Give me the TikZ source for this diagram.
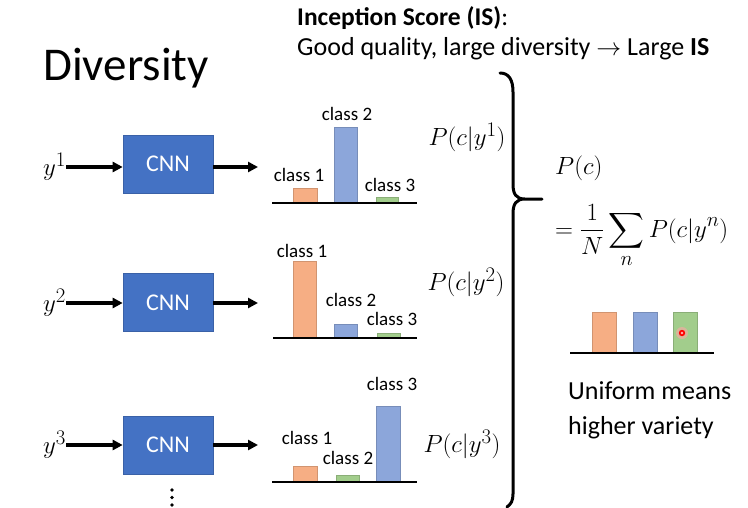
\documentclass[tikz,border=0pt]{standalone}
\usepackage{exscale}
\usepackage{fontspec}
\setmainfont{Carlito}
\usetikzlibrary{arrows.meta}
\definecolor{cnnblue}{RGB}{68,114,196}
\definecolor{barorange}{RGB}{246,174,132}
\definecolor{barblue}{RGB}{140,166,218}
\definecolor{bargreen}{RGB}{162,205,140}
\begin{document}
\begin{tikzpicture}[x=1pt,y=-1pt,
  cnnbox/.style={draw=cnnblue!85!black, fill=cnnblue, minimum width=90pt, minimum height=58pt,
    text=white, font=\fontsize{24}{24}\selectfont, inner sep=0pt, line width=0.6pt},
  fatarrow/.style={line width=3.5pt, -{Triangle[length=10pt,width=10pt]}},
  axisline/.style={line width=2.5pt},
  lbl/.style={font=\fontsize{19}{19}\selectfont, inner sep=0pt},
  mlbl/.style={font=\fontsize{27.5}{27.5}\selectfont, inner sep=0pt},
  yl/.style={font=\fontsize{28}{28}\selectfont, inner sep=0pt, anchor=east},
  obar/.style={fill=barorange, draw=barorange!85!black, line width=0.5pt},
  bbar/.style={fill=barblue, draw=barblue!85!black, line width=0.5pt},
  gbar/.style={fill=bargreen, draw=bargreen!85!black, line width=0.5pt},
  txt/.style={inner sep=0pt, anchor=base west}
]
\useasboundingbox (0,0) rectangle (748,507);
\fill[white] (0,0) rectangle (748,507);

% titles
\node[txt, font=\fontsize{47}{47}\selectfont] (title) at (43,80) {Diversity};
\node[txt, font=\fontsize{25.5}{25.5}\selectfont\bfseries] (head1) at (297,25) {Inception Score (IS)\mdseries:};
\node[txt, font=\fontsize{26}{26}\selectfont] (head2) at (297,55) {Good quality, large diversity $\rightarrow$ Large \textbf{IS}};

% row 1
\node[cnnbox] (cnn1) at (168,164) {CNN};
\node[yl] (y1) at (66,167) {$y^1$};
\coordinate (o1) at (258,167);
\draw[fatarrow] (y1.east) -- (cnn1.west |- y1.east);
\draw[fatarrow] (cnn1.east |- o1) -- (o1);

% row 2
\node[cnnbox] (cnn2) at (168,302.5) {CNN};
\node[yl] (y2) at (66,303) {$y^2$};
\coordinate (o2) at (258,303);
\draw[fatarrow] (y2.east) -- (cnn2.west |- y2.east);
\draw[fatarrow] (cnn2.east |- o2) -- (o2);

% row 3
\node[cnnbox] (cnn3) at (168,445) {CNN};
\node[yl] (y3) at (66,445) {$y^3$};
\coordinate (o3) at (258,445);
\draw[fatarrow] (y3.east) -- (cnn3.west |- y3.east);
\draw[fatarrow] (cnn3.east |- o3) -- (o3);

% dots
\fill (172,490) circle (1.8) (172,497.5) circle (1.8) (172,505) circle (1.8);

% chart 1
\draw[obar] (293,188) rectangle (317,203);
\draw[bbar] (334,127) rectangle (357,203);
\draw[gbar] (376,197) rectangle (398,203);
\draw[axisline] (272,203) -- (417,203);
\node[lbl] (c11) at (299,175) {class 1};
\node[lbl] (c12) at (347,114) {class 2};
\node[lbl] (c13) at (390,185) {class 3};
\node[mlbl] (p1) at (467,137) {$P(c|y^1)$};

% chart 2
\draw[obar] (293,261) rectangle (316,338);
\draw[bbar] (334,324) rectangle (357,338);
\draw[gbar] (377,333) rectangle (400,338);
\draw[axisline] (273,338) -- (417,338);
\node[lbl] (c21) at (302,251) {class 1};
\node[lbl] (c22) at (351,300) {class 2};
\node[lbl] (c23) at (392,319) {class 3};
\node[mlbl] (p2) at (466,282) {$P(c|y^2)$};

% chart 3
\draw[obar] (293,466) rectangle (317,482);
\draw[gbar] (336,475) rectangle (359,482);
\draw[bbar] (376,406) rectangle (400,482);
\draw[axisline] (272,482) -- (417,482);
\node[lbl] (c31) at (307,438) {class 1};
\node[lbl] (c32) at (348,458) {class 2};
\node[lbl] (c33) at (392,384) {class 3};
\node[mlbl] (p3) at (462,444) {$P(c|y^3)$};

% brace
\draw[line width=3pt, line cap=round]
  (500,73) .. controls (509,73) and (513,80) .. (513,92)
  -- (513,184) .. controls (513,194) and (516,199) .. (525,199) -- (542,199)
  (525,199) .. controls (516,199) and (513,204) .. (513,214)
  -- (513,494) .. controls (513,501) and (511,504) .. (507,507);

% right side
\node[txt, font=\fontsize{27.5}{27.5}\selectfont] (pc) at (555,174) {$P(c)$};
\node[txt, font=\fontsize{27.5}{27.5}\selectfont] (eq) at (555,237) {$\displaystyle =\frac{1}{N}\sum_{n} P(c|y^n)$};

% uniform chart
\draw[obar] (592,312) rectangle (616,353);
\draw[bbar] (633,312) rectangle (657,353);
\draw[gbar] (673,312) rectangle (697,353);
\draw[axisline] (570,353) -- (714,353);
\fill[red!35, opacity=0.6] (682,333) circle (6);
\fill[red] (682,333) circle (3.2);
\fill[red!30] (682,333) circle (1.3);

\node[txt, font=\fontsize{26}{26}\selectfont] (unif1) at (568,399) {Uniform means};
\node[txt, font=\fontsize{26}{26}\selectfont] (unif2) at (568,434) {higher variety};
\end{tikzpicture}
\end{document}
